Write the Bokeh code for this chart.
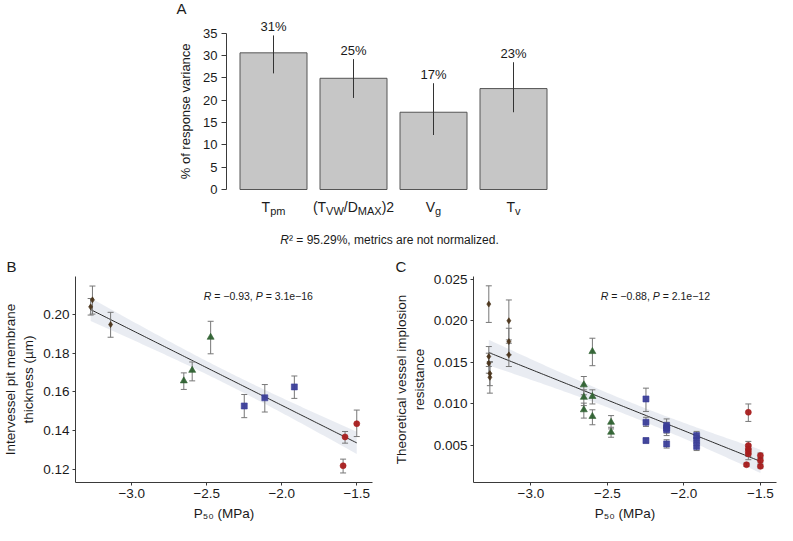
import math
import numpy as np
from bokeh.plotting import figure
from bokeh.models import ColumnDataSource, Label, FixedTicker, Range1d
from bokeh.layouts import column, row
from bokeh.embed import file_html
from bokeh.resources import INLINE

FONT = "Liberation Sans"
TXT = "#1a1a1a"
AX = "#3a3a3a"

# ---------------- Panel A data ----------------
metrics = ["Tpm", "(TVW/DMAX)2", "Vg", "Tv"]
metric_label_parts = [
    [("T", "main"), ("pm", "sub")],
    [("(T", "main"), ("VW", "sub"), ("/D", "main"), ("MAX", "sub"), (")2", "main")],
    [("V", "main"), ("g", "sub")],
    [("T", "main"), ("v", "sub")],
]
variance = [30.6, 24.9, 17.3, 22.6]
variance_lo = [26.0, 20.5, 12.2, 17.3]
variance_hi = [34.5, 29.2, 23.8, 28.5]
variance_labels = ["31%", "25%", "17%", "23%"]
a_yticks = [0, 5, 10, 15, 20, 25, 30, 35]
a_ylabel = "% of response variance"
caption_parts = [("R", "italic"), ("² = 95.29%, metrics are not normalized.", "main")]

# ---------------- Panel B data ----------------
b_p50 = [-3.274, -3.262, -3.141, -2.653, -2.597, -2.474, -2.250, -2.113, -1.916, -1.591, -1.578, -1.500]
b_thick = [0.2037, 0.2073, 0.1946, 0.1657, 0.1711, 0.1881, 0.1528, 0.1570, 0.1626, 0.1221, 0.1369, 0.1437]
b_lo = [0.1995, 0.2000, 0.1881, 0.1613, 0.1657, 0.1796, 0.1468, 0.1497, 0.1567, 0.1184, 0.1337, 0.1371]
b_hi = [0.2080, 0.2144, 0.2009, 0.1698, 0.1754, 0.1963, 0.1587, 0.1638, 0.1682, 0.1255, 0.1397, 0.1507]
b_group = ["brown", "brown", "brown", "green", "green", "green",
           "blue", "blue", "blue", "red", "red", "red"]
# each plotted value is a mean of several observations (R = -0.93 with P = 3.1e-16 implies ~36)
b_replicates = 3
b_ylabel = "Intervessel pit membrane\nthickness (µm)"
b_stat_parts = [("R", "italic"), (" = −0.93, ", "main"), ("P", "italic"), (" = 3.1e−16", "main")]
b_yticks = [0.12, 0.14, 0.16, 0.18, 0.20]
b_ytick_labels = ["0.12", "0.14", "0.16", "0.18", "0.20"]

# ---------------- Panel C data ----------------
c_p50 = [-3.275, -3.275, -3.275, -3.268, -3.268, -3.144, -3.144, -3.144,
         -2.654, -2.654, -2.654, -2.598, -2.598, -2.598, -2.476, -2.476,
         -2.248, -2.248, -2.248, -2.113, -2.113, -2.113, -2.113, -1.917, -1.917, -1.917,
         -1.579, -1.579, -1.579, -1.579, -1.579, -1.591, -1.500, -1.500, -1.500]
c_res = [0.0220, 0.0157, 0.0149, 0.01365, 0.0132, 0.0200, 0.0175, 0.0159,
         0.0123, 0.0108, 0.0093, 0.0163, 0.0109, 0.0085, 0.0078, 0.0066,
         0.0106, 0.0078, 0.0056, 0.0074, 0.0071, 0.0069, 0.0052, 0.0062, 0.0056, 0.0049,
         0.0090, 0.0050, 0.0046, 0.0043, 0.0040, 0.0027, 0.0038, 0.0032, 0.0025]
c_lo = [0.0198, 0.0145, 0.0137, 0.0122, 0.0113, 0.0177, 0.0159, 0.0145,
        0.0111, 0.0098, 0.0083, 0.0146, 0.0100, 0.0075, 0.0070, 0.0060,
        0.0091, 0.0073, 0.0053, 0.0068, 0.0065, 0.0062, 0.0047, 0.0056, 0.0050, 0.0044,
        0.0079, 0.0045, 0.0040, 0.0037, 0.0033, 0.0025, 0.0035, 0.0029, 0.0023]
c_hi = [0.0242, 0.0169, 0.0161, 0.0151, 0.0150, 0.0225, 0.0191, 0.0173,
        0.0133, 0.0117, 0.0101, 0.0179, 0.0117, 0.0093, 0.0086, 0.0072,
        0.0119, 0.0084, 0.0059, 0.0082, 0.0078, 0.0075, 0.0057, 0.0067, 0.0062, 0.0054,
        0.0100, 0.0055, 0.0051, 0.0049, 0.0046, 0.0029, 0.0041, 0.0035, 0.0027]
c_group = ["brown"] * 8 + ["green"] * 8 + ["blue"] * 10 + ["red"] * 9
c_replicates = 1
c_ylabel = "Theoretical vessel implosion\nresistance"
c_stat_parts = [("R", "italic"), (" = −0.88, ", "main"), ("P", "italic"), (" = 2.1e−12", "main")]
c_yticks = [0.005, 0.010, 0.015, 0.020, 0.025]
c_ytick_labels = ["0.005", "0.010", "0.015", "0.020", "0.025"]

p50_ticks = [-3.0, -2.5, -2.0, -1.5]
p50_tick_labels = ["−3.0", "−2.5", "−2.0", "−1.5"]
p50_label = "P₅₀ (MPa)"

group_color = {"brown": "#4a3319", "green": "#2e6130", "blue": "#3b3e99", "red": "#a81e1e"}
group_marker = {"brown": "diamond", "green": "triangle", "blue": "square", "red": "circle"}
group_size = {"brown": 6, "green": 7, "blue": 6, "red": 6}

# ---------------- helpers ----------------
CW = {' ': .278, '(': .333, ')': .333, '/': .278, '%': .889, '.': .278, ',': .278, '=': .584,
      '−': .584, '-': .333, '²': .333,
      'A': .667, 'D': .722, 'M': .833, 'P': .667, 'R': .722, 'T': .611, 'V': .667, 'W': .944, 'X': .667,
      'a': .556, 'b': .556, 'c': .5, 'd': .556, 'e': .556, 'f': .278, 'g': .556, 'h': .556, 'i': .222,
      'j': .222, 'k': .5, 'l': .222, 'm': .833, 'n': .556, 'o': .556, 'p': .556, 'q': .556, 'r': .333,
      's': .5, 't': .278, 'u': .556, 'v': .5, 'w': .722, 'x': .5, 'y': .5, 'z': .5}


def tw(s, size):
    return sum(CW.get(ch, 0.556) for ch in s) * size


def compose(fig, parts, x, y, dy_per_px, main, sub, align="center", drop=4.0, color=TXT):
    widths = [tw(t, sub if st == "sub" else main) for t, st in parts]
    off = -sum(widths) / 2 if align == "center" else 0.0
    for (t, st), w in zip(parts, widths):
        s = sub if st == "sub" else main
        lead = len(t) - len(t.lstrip(" "))
        core = t.strip(" ")
        yy = y - (drop * dy_per_px if st == "sub" else 0.0)
        fig.add_layout(Label(x=x, y=yy, x_offset=off + tw(" " * lead, s), text=core,
                             text_font=FONT, text_font_size=f"{s}px",
                             text_font_style="italic" if st == "italic" else "normal",
                             text_align="left", text_baseline="alphabetic", text_color=color))
        off += w


def t_quantile(p, df):
    xs = np.linspace(0.0, 12.0, 24001)
    c = math.exp(math.lgamma((df + 1) / 2) - math.lgamma(df / 2)) / math.sqrt(df * math.pi)
    pdf = c * (1 + xs ** 2 / df) ** (-(df + 1) / 2)
    cdf = 0.5 + np.concatenate([[0.0], np.cumsum((pdf[1:] + pdf[:-1]) / 2 * np.diff(xs))])
    return float(np.interp(p, cdf, xs))


def style_axes(fig, size):
    fig.xgrid.visible = False
    fig.ygrid.visible = False
    fig.outline_line_color = None
    for ax in fig.axis:
        ax.axis_line_color = AX
        ax.axis_line_width = 1
        ax.major_tick_line_color = AX
        ax.minor_tick_line_color = None
        ax.major_tick_in = 0
        ax.major_tick_out = 3
        ax.major_label_standoff = 3
        ax.major_label_text_font = FONT
        ax.major_label_text_font_size = size
        ax.major_label_text_color = TXT
        ax.axis_label_text_font = FONT
        ax.axis_label_text_font_style = "normal"
        ax.axis_label_text_color = TXT
        ax.axis_label_text_font_size = size


# ---------------- Panel A ----------------
A_W, A_H = 777, 246
A_AXIS = 226        # px position of the y axis
A_C1 = 273          # centre of first bar, px
A_ZERO = 189        # px position of y = 0
A_PX = 80.0         # px per category
A_PY = 4.466        # px per percent


def ax_(px):
    return 1 + (px - A_C1) / A_PX


def ay_(py):
    return (A_ZERO - py) / A_PY


pa = figure(width=A_W, height=A_H, x_range=Range1d(ax_(0), ax_(A_W)),
            y_range=Range1d(ay_(A_H), ay_(0)),
            min_border=0, min_border_left=0, min_border_right=0, min_border_top=0,
            min_border_bottom=0, output_backend="svg", toolbar_location=None)
style_axes(pa, "13px")
pa.xaxis.visible = False
pa.yaxis.fixed_location = ax_(A_AXIS)
pa.yaxis.ticker = FixedTicker(ticks=a_yticks)
pa.yaxis.bounds = (a_yticks[0], a_yticks[-1])
pa.yaxis.major_tick_out = 5
pa.yaxis.major_label_standoff = 4

xa = [i + 1 for i in range(len(metrics))]
pa.vbar(x=xa, top=variance, bottom=0, width=67 / A_PX, fill_color="#c6c6c6",
        line_color="#555555", line_width=1)
pa.segment(x0=xa, y0=variance_lo, x1=xa, y1=variance_hi, line_color="#333333", line_width=1)
for xi, hi, lab in zip(xa, variance_hi, variance_labels):
    pa.add_layout(Label(x=xi, y=hi + 2.0, text=lab, text_font=FONT, text_font_size="13px",
                        text_align="center", text_baseline="middle", text_color=TXT))
dyA = 1 / A_PY
for xi, parts in zip(xa, metric_label_parts):
    compose(pa, parts, xi, ay_(206.3), dyA, 14, 11)
pa.add_layout(Label(x=ax_(185), y=(a_yticks[0] + a_yticks[-1]) / 2, text=a_ylabel,
                    angle=math.pi / 2, text_font=FONT, text_font_size="13px",
                    text_align="center", text_baseline="middle", text_color=TXT))
compose(pa, caption_parts, ax_(389), ay_(239), dyA, 12, 12)
pa.add_layout(Label(x=ax_(181), y=ay_(8), text="A", text_font=FONT,
                    text_font_size="15px", text_align="center", text_baseline="middle",
                    text_color=TXT))


# ---------------- Panels B and C ----------------
def scatter_panel(width, left, right_b, x_rng, y_rng, x, y, lo, hi, groups, reps,
                  yticks, ytick_labels, ylabel, stat_parts, stat_xy, letter, letter_px, tick_size):
    H, T, B = 279, 30, 43
    fig = figure(width=width, height=H, x_range=Range1d(*x_rng), y_range=Range1d(*y_rng),
                 min_border_left=left, min_border_right=right_b, min_border_top=T,
                 min_border_bottom=B, output_backend="svg", toolbar_location=None,
                 title=letter)
    fig.title.align = "left"
    fig.title.offset = letter_px - left
    fig.title.standoff = 4
    fig.title.text_font = FONT
    fig.title.text_font_size = "15px"
    fig.title.text_font_style = "normal"
    fig.title.text_color = TXT
    style_axes(fig, tick_size)
    fig.xaxis.ticker = FixedTicker(ticks=p50_ticks)
    fig.xaxis.major_label_overrides = {t: s for t, s in zip(p50_ticks, p50_tick_labels)}
    fig.xaxis.axis_label = p50_label
    fig.xaxis.axis_label_standoff = 5
    fig.yaxis.ticker = FixedTicker(ticks=yticks)
    fig.yaxis.major_label_overrides = {t: s for t, s in zip(yticks, ytick_labels)}
    fig.yaxis.axis_label = ylabel
    fig.yaxis.axis_label_standoff = 4

    fh = H - T - B
    dy_px = (y_rng[1] - y_rng[0]) / fh

    # linear fit with 95 % confidence band (observations: plotted values x replicates)
    xa_ = np.repeat(np.array(x), reps)
    ya_ = np.repeat(np.array(y), reps)
    slope, icpt = np.polyfit(xa_, ya_, 1)
    n = len(xa_)
    resid = ya_ - (slope * xa_ + icpt)
    s = math.sqrt(float(np.sum(resid ** 2)) / (n - 2))
    xm = float(np.mean(xa_))
    sxx = float(np.sum((xa_ - xm) ** 2))
    xs = np.linspace(xa_.min(), xa_.max(), 120)
    fit = slope * xs + icpt
    se = s * np.sqrt(1 / n + (xs - xm) ** 2 / sxx)
    tq = t_quantile(0.975, n - 2)
    fig.varea(x=xs, y1=fit - tq * se, y2=fit + tq * se, fill_color="#e2e5ed", fill_alpha=0.75)
    fig.line(xs, fit, line_color="#2b2b2b", line_width=1)

    src = ColumnDataSource(dict(
        x=list(x), y=list(y), lo=list(lo), hi=list(hi),
        color=[group_color[g] for g in groups],
        marker=[group_marker[g] for g in groups],
        size=[group_size[g] for g in groups]))
    fig.segment(x0="x", y0="lo", x1="x", y1="hi", source=src, line_color="#777777", line_width=1)
    fig.scatter(x="x", y="lo", source=src, marker="dash", size=6, line_color="#777777", line_width=1)
    fig.scatter(x="x", y="hi", source=src, marker="dash", size=6, line_color="#777777", line_width=1)
    fig.scatter(x="x", y="y", source=src, marker="marker", size="size", fill_color="color",
                line_color="color", fill_alpha=0.95, line_alpha=0.6)

    compose(fig, stat_parts, stat_xy[0], stat_xy[1], dy_px, 10.5, 10.5, align="left")
    return fig


p50_range = (-3.375, -1.395)
pb = scatter_panel(388, 70, 16, p50_range, (0.1135, 0.2193), b_p50, b_thick, b_lo, b_hi, b_group,
                   b_replicates, b_yticks, b_ytick_labels, b_ylabel, b_stat_parts, (-2.52, 0.2093),
                   "B", 1, "13.5px")
pc = scatter_panel(389, 85, 1, p50_range, (0.00056, 0.02532), c_p50, c_res, c_lo, c_hi, c_group,
                   c_replicates, c_yticks, c_ytick_labels, c_ylabel, c_stat_parts, (-2.543, 0.02298),
                   "C", 7, "13.5px")

layout = column(pa, row(pb, pc))
open("out.html", "w").write(file_html(layout, INLINE))
